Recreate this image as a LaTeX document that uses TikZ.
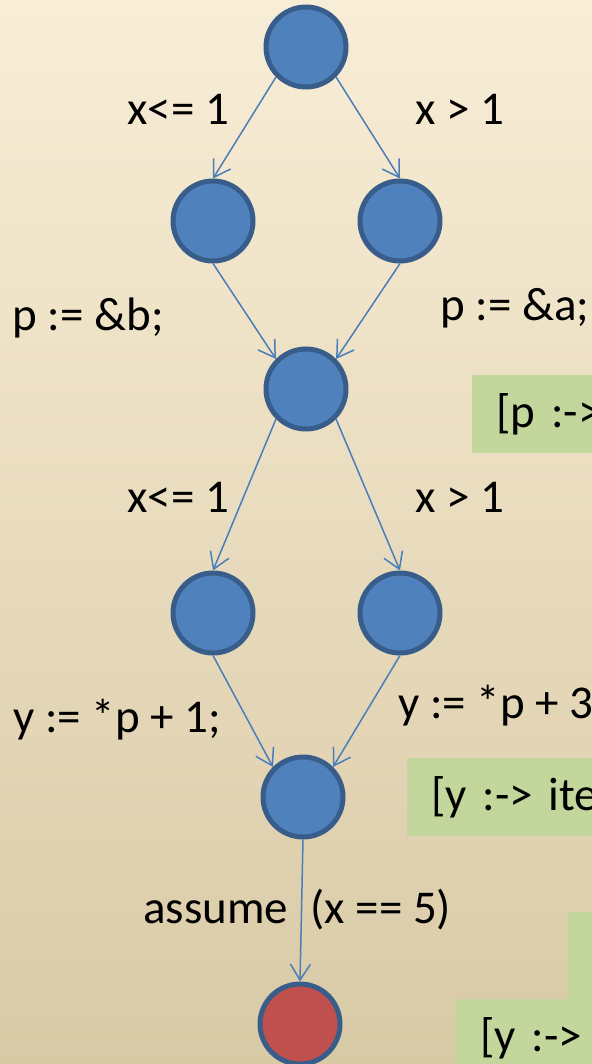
\documentclass[tikz,border=0pt]{standalone}
\usepackage{fontspec}
\setmainfont{Carlito}
\usepackage{xcolor}
\usetikzlibrary{arrows.meta}

\definecolor{nodeblue}{HTML}{4F81BD}
\definecolor{rimblue}{HTML}{385D8A}
\definecolor{nodered}{HTML}{C0504D}
\definecolor{edgeblue}{HTML}{4A7EBB}
\definecolor{notegreen}{HTML}{C3D69B}
\definecolor{bgtop}{HTML}{F8EDD6}
\definecolor{bgbot}{HTML}{D9CAA6}

\begin{document}
\begin{tikzpicture}[
  x=0.5pt, y=-0.5pt,
  font=\fontsize{23.5}{28}\selectfont,
  state/.style={circle, draw=rimblue, line width=2.5pt, fill=nodeblue, minimum size=40pt, inner sep=0pt},
  errstate/.style={state, fill=nodered},
  flow/.style={edgeblue, line width=0.75pt, -{Straight Barb[length=8pt,width=10pt]}},
  lbl/.style={anchor=base west, inner sep=0pt},
  note/.style={anchor=north west, fill=notegreen, minimum height=39pt, text width=96pt, inner xsep=12pt, inner ysep=0pt, align=left}
]
\useasboundingbox (0,0) rectangle (592,1064);
\clip (0,0) rectangle (592,1064);
\shade[top color=bgtop, bottom color=bgbot] (0,0) rectangle (592,1064);

% control flow graph
\node[state] (entry) at (306,47) {};
\node[state] (le1) at (213,221) {};
\node[state] (gt1) at (400,221) {};
\node[state] (join1) at (306,389) {};
\node[state] (le2) at (213,613) {};
\node[state] (gt2) at (400,613) {};
\node[state] (join2) at (303,797) {};
\node[errstate] (err) at (300,1024) {};

\draw[flow] (entry.south west) -- (le1.north);
\draw[flow] (entry.south east) -- (gt1.north);
\draw[flow] (le1.south) -- (join1.north west);
\draw[flow] (gt1.south) -- (join1.north east);
\draw[flow] (join1.south west) -- (le2.north);
\draw[flow] (join1.south east) -- (gt2.north);
\draw[flow] (le2.south) -- (join2.north west);
\draw[flow] (gt2.south) -- (join2.north east);
\draw[flow] (join2.south) -- (err.north);

% edge labels
\node[lbl] (c1) at (127,125) {x<= 1};
\node[lbl] (c2) at (415,125) {x > 1};
\node[lbl] (sb) at (12,330) {p := \&b;};
\node[lbl] (sa) at (440,320) {p := \&a;};
\node[lbl] (c3) at (127,512) {x<= 1};
\node[lbl] (c4) at (415,512) {x > 1};
\node[lbl] (s1) at (13,732) {y := *p + 1;};
\node[lbl] (s3) at (398,718) {y := *p + 3};
\node[lbl] (asm) at (143,923) {assume};
\node[lbl] (cond) at (310,923) {(x == 5)};

% symbolic states
\node[note] (pmap) at (472,375) {[p :->};
\node[note] (ymap) at (407,758) {[y :-> ite};
\node[note, minimum height=90pt] (pre) at (568,912) {[};
\node[note, minimum height=39pt] (post) at (456,999) {[y :->};
\end{tikzpicture}
\end{document}
